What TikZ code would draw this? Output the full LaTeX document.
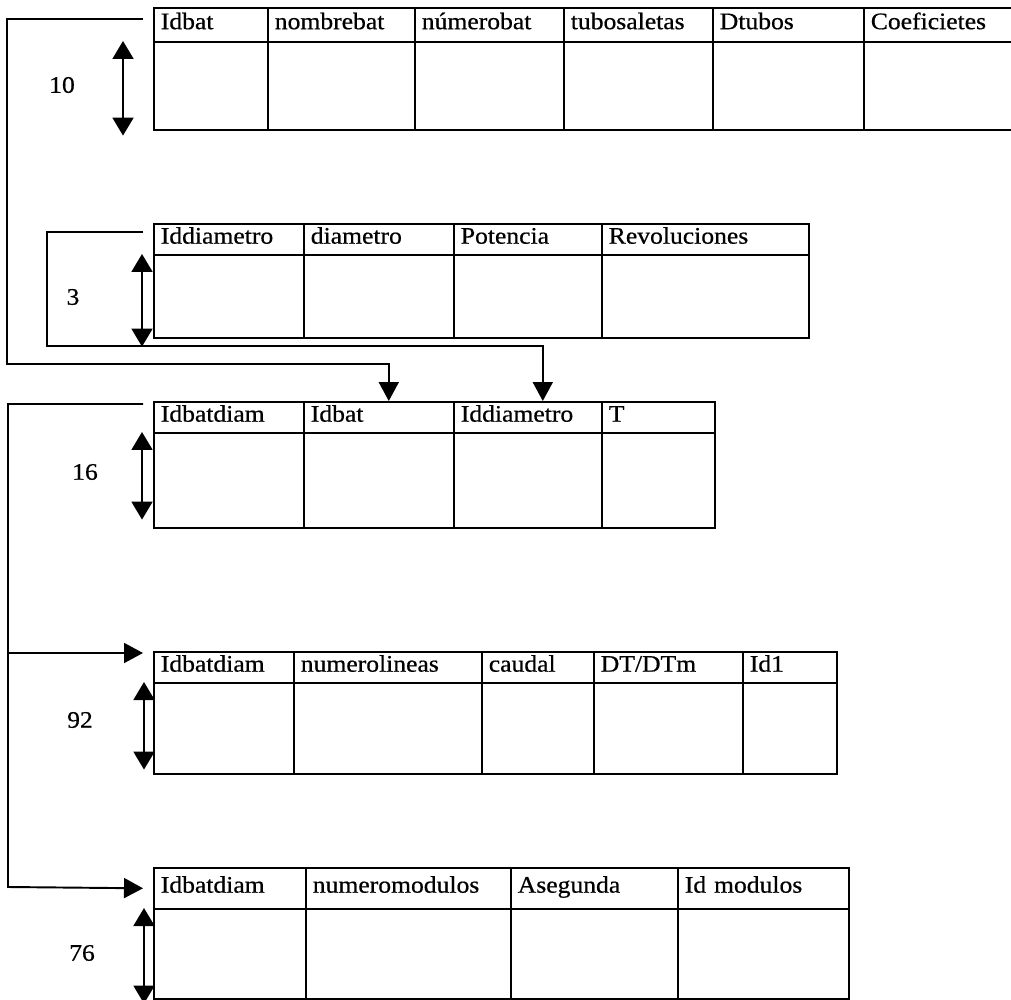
\documentclass[tikz,border=0pt]{standalone}
\usepackage{fontspec}
\setmainfont{Liberation Serif}[FakeStretch=1.08, FakeBold=0.6]
\usetikzlibrary{arrows.meta,calc}

\tikzset{
  hcell/.style={draw, line width=0.9pt, anchor=north west, inner xsep=4pt, inner ysep=0pt, align=left, text height=0.72em, text depth=0.22em, font=\fontsize{13.5}{15}\selectfont},
  bcell/.style={draw, line width=0.9pt, anchor=north west, inner sep=0pt},
  link/.style={line width=1.1pt, -{Triangle[width=0.4cm,length=0.38cm]}},
  dbl/.style={line width=1.1pt, {Triangle[width=0.42cm,length=0.36cm]}-{Triangle[width=0.42cm,length=0.36cm]}},
  count/.style={font=\fontsize{13.5}{15}\selectfont}
}

\begin{document}
\begin{tikzpicture}[x=0.02cm, y=-0.02cm]
    \useasboundingbox (0,0) rectangle (1011,1000);

    % Table 1: baterias
    \foreach \i/\xa/\xb/\txt in {1/153/267/Idbat, 2/267/414/nombrebat, 3/414/563/númerobat, 4/563/712/tubosaletas, 5/712/863/Dtubos, 6/863/1016/Coeficietes}{
        \pgfmathsetlengthmacro\tw{(\xb-\xa)*0.02cm-8pt}
        \node[hcell, text width=\tw, minimum height={34*0.02cm}] (bat-h\i) at (\xa,7) {\txt};
        \node[bcell, minimum width={(\xb-\xa)*0.02cm}, minimum height={88*0.02cm}] (bat-b\i) at (\xa,41) {};
    }

    % Table 2: diametros
    \foreach \i/\xa/\xb/\txt in {1/153/303/Iddiametro, 2/303/453/diametro, 3/453/601/Potencia, 4/601/808/Revoluciones}{
        \pgfmathsetlengthmacro\tw{(\xb-\xa)*0.02cm-8pt}
        \node[hcell, text width=\tw, minimum height={31*0.02cm}] (diam-h\i) at (\xa,223) {\txt};
        \node[bcell, minimum width={(\xb-\xa)*0.02cm}, minimum height={83*0.02cm}] (diam-b\i) at (\xa,254) {};
    }

    % Table 3: bateria-diametro
    \foreach \i/\xa/\xb/\txt in {1/153/303/Idbatdiam, 2/303/453/Idbat, 3/453/601/Iddiametro, 4/601/714/T}{
        \pgfmathsetlengthmacro\tw{(\xb-\xa)*0.02cm-8pt}
        \node[hcell, text width=\tw, minimum height={31*0.02cm}] (batdiam-h\i) at (\xa,401) {\txt};
        \node[bcell, minimum width={(\xb-\xa)*0.02cm}, minimum height={95*0.02cm}] (batdiam-b\i) at (\xa,432) {};
    }

    % Table 4: lineas
    \foreach \i/\xa/\xb/\txt in {1/153/293/Idbatdiam, 2/293/481/numerolineas, 3/481/593/caudal, 4/593/742/{DT/DTm}, 5/742/836/Id1}{
        \pgfmathsetlengthmacro\tw{(\xb-\xa)*0.02cm-8pt}
        \node[hcell, text width=\tw, minimum height={31*0.02cm}] (lineas-h\i) at (\xa,651) {\txt};
        \node[bcell, minimum width={(\xb-\xa)*0.02cm}, minimum height={91*0.02cm}] (lineas-b\i) at (\xa,682) {};
    }

    % Table 5: modulos
    \foreach \i/\xa/\xb/\txt in {1/153/305/Idbatdiam, 2/305/510/numeromodulos, 3/510/677/Asegunda, 4/677/848/Id modulos}{
        \pgfmathsetlengthmacro\tw{(\xb-\xa)*0.02cm-8pt}
        \node[hcell, text width=\tw, minimum height={41*0.02cm}] (modulos-h\i) at (\xa,867) {\txt};
        \node[bcell, minimum width={(\xb-\xa)*0.02cm}, minimum height={90*0.02cm}] (modulos-b\i) at (\xa,908) {};
    }

    % Row counts
    \node[count] (n-bat) at (62,85) {10};
    \node[count] (n-diam) at (73,297) {3};
    \node[count] (n-batdiam) at (85,472) {16};
    \node[count] (n-lineas) at (80,720) {92};
    \node[count] (n-modulos) at (82,953) {76};

    % Double arrows
    \draw[dbl] ([xshift=-0.6cm]bat-b1.north west) -- ([shift={(-0.6cm,-0.1cm)}]bat-b1.south west);
    \draw[dbl] ([xshift=-0.22cm]diam-b1.north west) -- ([shift={(-0.22cm,-0.16cm)}]diam-b1.south west);
    \draw[dbl] ([xshift=-0.22cm]batdiam-b1.north west) -- ([shift={(-0.22cm,0.18cm)}]batdiam-b1.south west);
    \draw[dbl] ([xshift=-0.18cm]lineas-b1.north west) -- ([shift={(-0.18cm,0.1cm)}]lineas-b1.south west);
    \draw[dbl] ([xshift=-0.18cm]modulos-b1.north west) -- ([shift={(-0.18cm,-0.08cm)}]modulos-b1.south west);

    % Links
    \coordinate (bat-in) at (143,19);
    \coordinate (diam-in) at (143,232);
    \coordinate (batdiam-in) at (143,404);
    \coordinate (split) at (8,653);
    \draw[link] (bat-in) -- (7,19) -- (7,364) -| ([xshift=0.2cm]batdiam-h2.north);
    \draw[link] (diam-in) -- (47,232) -- (47,346) -| ([xshift=0.3cm]batdiam-h3.north);
    \draw[link] (batdiam-in) -- (8,404) -- (8,887) -- ([xshift=-0.2cm]modulos-h1.west);
    \draw[link] (split) -- ([shift={(-0.2cm,-0.04cm)}]lineas-h1.north west);
\end{tikzpicture}
\end{document}
